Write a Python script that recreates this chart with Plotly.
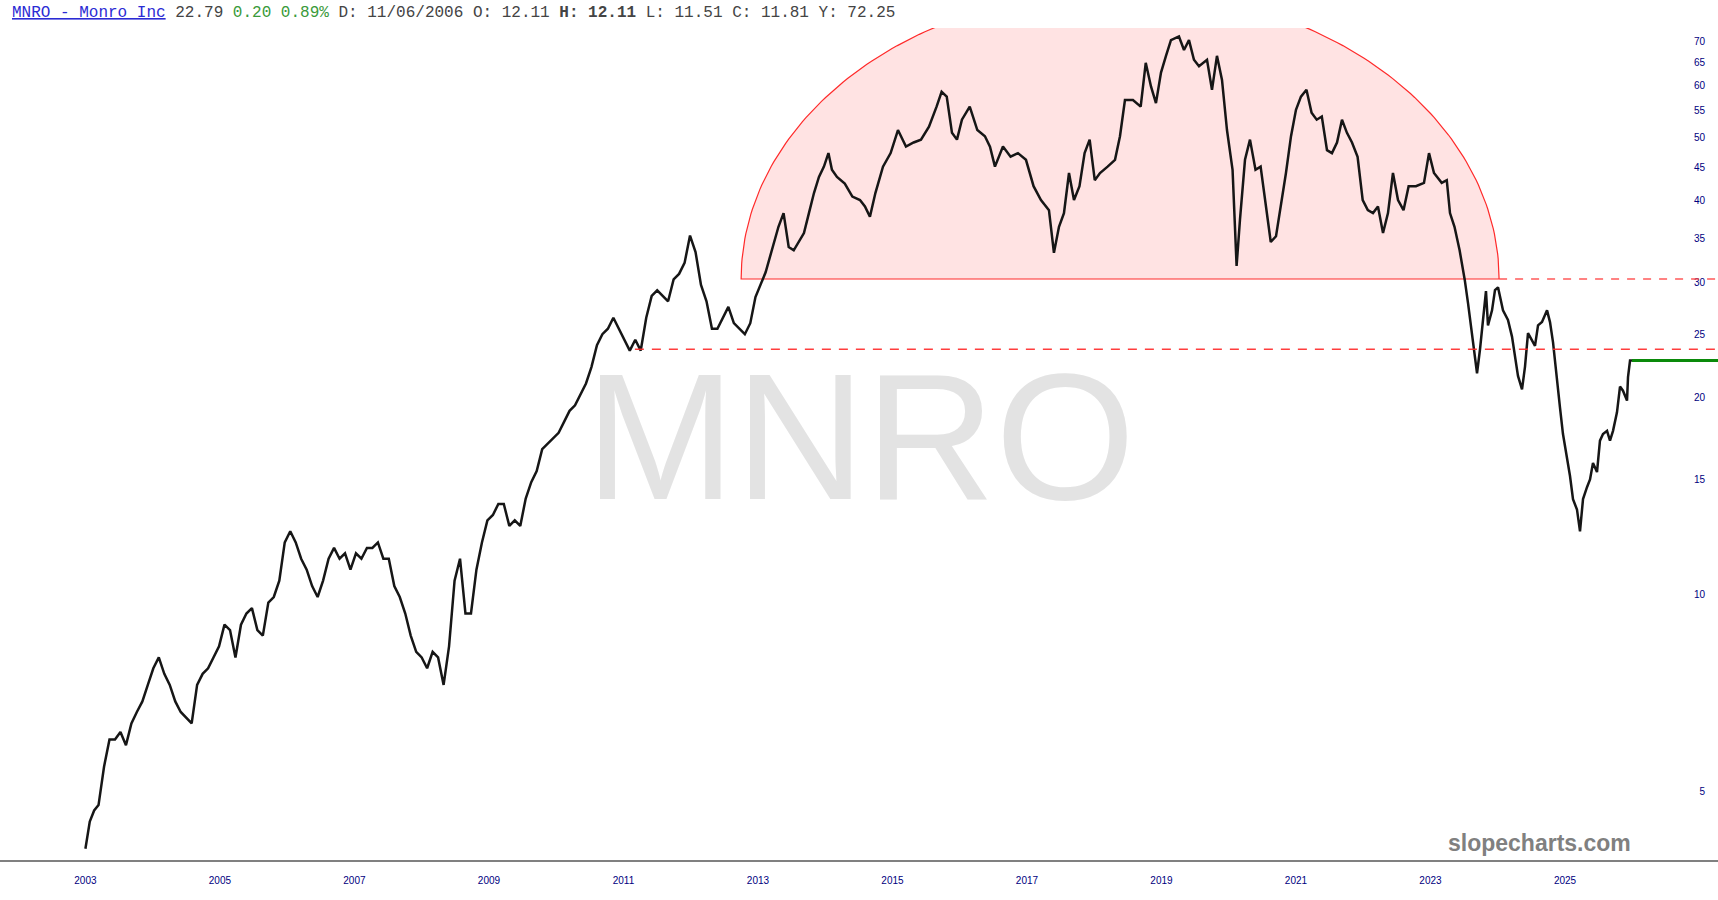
import math
import plotly.graph_objects as go

# ---------------- data ----------------
years = [
    2003.000, 2003.065, 2003.130, 2003.195, 2003.277, 2003.358, 2003.440, 2003.521, 2003.603, 2003.684,
    2003.765, 2003.847, 2003.928, 2004.010, 2004.091, 2004.173, 2004.254, 2004.336, 2004.417, 2004.498,
    2004.580, 2004.661, 2004.743, 2004.824, 2004.906, 2004.987, 2005.068, 2005.150, 2005.231, 2005.313,
    2005.394, 2005.476, 2005.557, 2005.638, 2005.720, 2005.801, 2005.883, 2005.964, 2006.046, 2006.127,
    2006.208, 2006.290, 2006.371, 2006.453, 2006.534, 2006.616, 2006.697, 2006.779, 2006.860, 2006.941,
    2007.023, 2007.104, 2007.186, 2007.267, 2007.349, 2007.430, 2007.511, 2007.593, 2007.674, 2007.756,
    2007.837, 2007.919, 2008.000, 2008.081, 2008.163, 2008.244, 2008.326, 2008.407, 2008.489, 2008.570,
    2008.651, 2008.733, 2008.814, 2008.896, 2008.977, 2009.059, 2009.140, 2009.221, 2009.303, 2009.384,
    2009.466, 2009.547, 2009.629, 2009.710, 2009.792, 2009.873, 2009.954, 2010.036, 2010.117, 2010.199,
    2010.280, 2010.362, 2010.443, 2010.524, 2010.606, 2010.687, 2010.769, 2010.850, 2010.932, 2011.013,
    2011.094, 2011.176, 2011.257, 2011.339, 2011.420, 2011.502, 2011.583, 2011.664, 2011.746, 2011.827,
    2011.909, 2011.990, 2012.072, 2012.153, 2012.235, 2012.316, 2012.397, 2012.479, 2012.560, 2012.642,
    2012.723, 2012.805, 2012.886, 2012.963, 2013.114, 2013.223, 2013.305, 2013.381, 2013.457, 2013.532,
    2013.608, 2013.684, 2013.758, 2013.833, 2013.907, 2013.981, 2014.048, 2014.100, 2014.175, 2014.291,
    2014.404, 2014.517, 2014.591, 2014.665, 2014.746, 2014.859, 2014.973, 2015.082, 2015.201, 2015.315,
    2015.424, 2015.543, 2015.656, 2015.731, 2015.807, 2015.885, 2015.959, 2016.033, 2016.149, 2016.262,
    2016.375, 2016.450, 2016.524, 2016.643, 2016.756, 2016.866, 2016.985, 2017.098, 2017.208, 2017.327,
    2017.401, 2017.476, 2017.550, 2017.625, 2017.699, 2017.781, 2017.857, 2017.932, 2018.008, 2018.086,
    2018.199, 2018.309, 2018.383, 2018.457, 2018.576, 2018.691, 2018.766, 2018.844, 2018.918, 2018.993,
    2019.067, 2019.141, 2019.260, 2019.335, 2019.409, 2019.483, 2019.558, 2019.677, 2019.751, 2019.825,
    2019.900, 2019.974, 2020.057, 2020.117, 2020.167, 2020.242, 2020.316, 2020.398, 2020.474, 2020.550,
    2020.625, 2020.703, 2020.777, 2020.851, 2020.926, 2021.000, 2021.074, 2021.156, 2021.232, 2021.308,
    2021.384, 2021.461, 2021.535, 2021.610, 2021.684, 2021.758, 2021.833, 2021.916, 2021.992, 2022.068,
    2022.145, 2022.219, 2022.294, 2022.368, 2022.442, 2022.517, 2022.599, 2022.675, 2022.784, 2022.903,
    2022.978, 2023.052, 2023.167, 2023.242, 2023.290, 2023.357, 2023.433, 2023.509, 2023.558, 2023.617,
    2023.662, 2023.692, 2023.736, 2023.781, 2023.825, 2023.855, 2023.915, 2023.959, 2024.004, 2024.078,
    2024.152, 2024.212, 2024.257, 2024.301, 2024.361, 2024.405, 2024.450, 2024.509, 2024.554, 2024.599,
    2024.658, 2024.733, 2024.777, 2024.822, 2024.881, 2024.926, 2024.970, 2025.030, 2025.074, 2025.119,
    2025.178, 2025.223, 2025.268, 2025.327, 2025.372, 2025.416, 2025.476, 2025.520, 2025.565, 2025.625,
    2025.669, 2025.714, 2025.773, 2025.818, 2025.862, 2025.922, 2025.937, 2025.967, 2025.996,
]
prices = [
    4.09, 4.50, 4.68, 4.77, 5.46, 6.01, 6.01, 6.17, 5.89, 6.36,
    6.62, 6.87, 7.28, 7.72, 8.02, 7.57, 7.28, 6.87, 6.62, 6.49,
    6.36, 7.28, 7.57, 7.72, 8.02, 8.34, 9.00, 8.83, 8.02, 9.00,
    9.36, 9.54, 8.83, 8.66, 9.73, 9.92, 10.51, 12.02, 12.50, 12.02,
    11.35, 10.92, 10.31, 9.92, 10.51, 11.35, 11.79, 11.35, 11.57, 10.92,
    11.57, 11.35, 11.79, 11.79, 12.02, 11.35, 11.35, 10.31, 9.92, 9.36,
    8.66, 8.18, 8.02, 7.72, 8.18, 8.02, 7.28, 8.34, 10.51, 11.35,
    9.36, 9.36, 10.92, 12.02, 12.99, 13.24, 13.76, 13.76, 12.74, 12.99,
    12.74, 14.03, 14.86, 15.45, 16.69, 17.01, 17.34, 17.68, 18.37, 19.10,
    19.47, 20.23, 21.03, 22.28, 24.07, 25.01, 25.50, 26.50, 25.50, 24.53,
    23.61, 24.53, 23.61, 26.50, 28.62, 29.18, 28.62, 28.08, 30.33, 30.92,
    32.14, 35.39, 33.40, 29.75, 28.08, 25.50, 25.50, 26.50, 27.54, 26.00,
    25.50, 25.01, 26.00, 28.5, 31.1, 34.0, 36.5, 38.3, 34.0, 33.6,
    34.6, 35.7, 38.3, 41.1, 43.5, 45.1, 47.3, 44.6, 43.5, 42.5,
    40.6, 40.1, 39.2, 37.8, 41.1, 45.1, 47.3, 51.3, 48.4, 49.1,
    49.6, 51.9, 55.7, 58.7, 57.7, 50.8, 49.6, 53.2, 55.7, 51.3,
    50.2, 48.4, 45.1, 48.4, 46.7, 47.3, 46.2, 42.1, 40.1, 38.7,
    33.3, 36.5, 38.3, 44.1, 40.1, 42.1, 47.3, 49.6, 43.0, 44.1,
    45.1, 46.2, 50.2, 57.0, 57.0, 55.7, 65.0, 59.8, 56.4, 62.8,
    66.6, 70.4, 71.3, 68.0, 70.4, 65.7, 64.2, 65.7, 59.1, 66.6,
    61.2, 51.3, 44.6, 31.8, 37.4, 46.2, 49.6, 44.6, 45.1, 39.2,
    34.6, 35.3, 39.2, 44.1, 50.2, 55.1, 57.7, 59.1, 54.5, 53.2,
    53.8, 47.8, 47.3, 49.1, 53.2, 50.8, 49.1, 46.7, 40.1, 38.7,
    38.3, 39.2, 35.7, 38.3, 44.1, 40.1, 38.7, 42.1, 42.1, 42.6,
    47.3, 44.1, 42.6, 43.0, 38.3, 36.5, 33.6, 30.3, 27.9, 24.8,
    22.8, 21.8, 23.7, 26.6, 29.1, 25.8, 27.2, 29.2, 29.5, 27.2,
    26.3, 24.8, 23.1, 21.6, 20.6, 22.3, 25.1, 24.5, 24.0, 25.8,
    26.1, 27.2, 26.1, 24.3, 21.6, 19.3, 17.6, 16.3, 15.2, 14.0,
    13.5, 12.5, 14.0, 14.6, 15.0, 15.9, 15.4, 17.2, 17.6, 17.8,
    17.2, 17.8, 19.0, 20.8, 20.5, 19.8, 21.5, 22.8, 22.79,
]

y_tick_values = [5, 10, 15, 20, 25, 30, 35, 40, 45, 50, 55, 60, 65, 70]
x_tick_years = [2003, 2005, 2007, 2009, 2011, 2013, 2015, 2017, 2019, 2021, 2023, 2025]

last_close = 22.79
arc_start, arc_end = 2012.75, 2024.02      # rounded top drawing
arc_base = 30.37
arc_top_ratio = 2.76                        # top of arc relative to base (log scale)
support_level, support_start = 23.72, 2011.17

header = ('<span style="color:#2b2bd4"><u>MNRO - Monro Inc</u></span>'
          '<span style="color:#444"> 22.79 </span>'
          '<span style="color:#3a9a3a">0.20 0.89%</span>'
          '<span style="color:#444"> D: 11/06/2006 O: 12.11 </span>'
          '<b>H: 12.11</b>'
          '<span style="color:#444"> L: 11.51 C: 11.81 Y: 72.25</span>')

X_MIN, X_MAX = 2001.73, 2027.275
Y_MIN, Y_MAX = 3.932, 73.46

# ---------------- figure ----------------
fig = go.Figure()

# rounded-top annotation (half ellipse on log scale)
n = 181
t = [math.pi * i / (n - 1) for i in range(n)]
cx, hw = (arc_start + arc_end) / 2, (arc_end - arc_start) / 2
arc_x = [cx + hw * math.cos(a) for a in t] + [arc_start, arc_end]
arc_y = [arc_base * arc_top_ratio ** math.sin(a) for a in t] + [arc_base, arc_base]
fig.add_trace(go.Scatter(
    x=arc_x, y=arc_y, mode="lines", fill="toself",
    fillcolor="rgba(255,0,0,0.11)", line=dict(color="#ff2a2a", width=1.2),
    hoverinfo="skip", showlegend=False))

# watermark
fig.add_trace(go.Scatter(
    x=[2014.52], y=[16.43], mode="text", text=["MNRO"],
    textposition="middle center",
    textfont=dict(family="Liberation Sans, Arial", size=180, color="#e3e3e3"),
    hoverinfo="skip", showlegend=False))

# price
fig.add_trace(go.Scatter(
    x=years, y=prices, mode="lines",
    line=dict(color="#161616", width=2.5),
    showlegend=False))

# last price line
fig.add_trace(go.Scatter(
    x=[years[-1], X_MAX], y=[last_close, last_close], mode="lines",
    line=dict(color="#0a8a0a", width=3), hoverinfo="skip", showlegend=False))

fig.add_shape(type="line", xref="x", yref="y", x0=arc_end, x1=X_MAX,
              y0=arc_base, y1=arc_base,
              line=dict(color="rgba(255,60,60,0.85)", width=1.5, dash="8px,8px"))
fig.add_shape(type="line", xref="x", yref="y", x0=support_start, x1=X_MAX,
              y0=support_level, y1=support_level,
              line=dict(color="rgba(255,40,40,0.9)", width=1.5, dash="9px,8px"))

fig.add_annotation(xref="paper", yref="paper", x=10 / 1718, y=1.0 + 15 / 832,
                   xanchor="left", yanchor="middle", showarrow=False,
                   text=header,
                   font=dict(family="Liberation Mono, Courier New", size=16, color="#444"))

fig.add_annotation(xref="paper", yref="paper", x=1539.5 / 1718, y=17 / 832,
                   xanchor="center", yanchor="middle", showarrow=False,
                   text="<b>slopecharts.com</b>",
                   font=dict(family="Liberation Sans, Arial", size=23, color="#808080"))

fig.update_layout(
    width=1718, height=900,
    margin=dict(l=0, r=0, t=28, b=40),
    paper_bgcolor="white", plot_bgcolor="white",
    showlegend=False,
    xaxis=dict(range=[X_MIN, X_MAX], tickvals=x_tick_years,
               ticktext=[str(v) for v in x_tick_years],
               showgrid=False, zeroline=False, ticks="",
               showline=True, linecolor="#808080", linewidth=2,
               ticklabelstandoff=10,
               tickfont=dict(family="Liberation Sans, Arial", size=10, color="#000080")),
    yaxis=dict(type="log", range=[math.log10(Y_MIN), math.log10(Y_MAX)],
               side="right", ticklabelposition="inside",
               tickvals=y_tick_values, ticktext=[str(v) for v in y_tick_values],
               showgrid=False, zeroline=False, ticks="", showline=False,
               ticklabelstandoff=10,
               tickfont=dict(family="Liberation Sans, Arial", size=10, color="#000080")),
)

fig.write_html("out.html",
               config={"displayModeBar": False},
               post_script="document.body.style.margin='0';document.body.style.overflow='hidden';")
